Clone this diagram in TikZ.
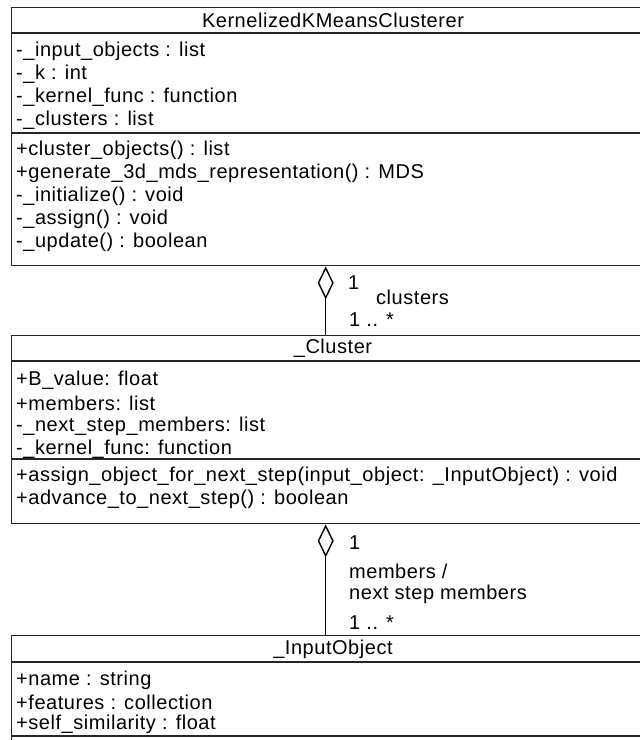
\documentclass[tikz,border=0pt]{standalone}
\usepackage{fontspec}
\setmainfont[LetterSpace=2.7]{Liberation Sans}
\usepackage{tikz}
\usetikzlibrary{arrows.meta}
\newcommand{\ufont}{\fontsize{20}{23}\selectfont}
\tikzset{
  uline/.style={draw=black!85,line width=1.4pt},
  urow/.style={anchor=west,inner sep=0pt,font=\ufont},
  utitle/.style={inner sep=0pt,font=\ufont},
  uagg/.style={uline,draw=black,{Diamond[open,length=33pt,width=16pt]}-}}
% box: name, top, first rule, second rule, bottom
\newcommand{\ubox}[5]{%
  \node[uline,anchor=north west,inner sep=0pt,minimum width=645pt,
    minimum height={#5-#2}] (#1) at (10.5,#2) {};
  \draw[uline] (10.5,#3) -- (655.5,#3);
  \draw[uline] (10.5,#4) -- (655.5,#4);}
% rows: name, first y, step, list
\newcommand{\urows}[4]{%
  \foreach \utxt [count=\ui] in {#4}{%
    \node[urow] (#1\ui) at (16,{#2+(\ui-1)*#3}) {\utxt};}}

\begin{document}
\begin{tikzpicture}[x=1pt,y=-1pt]
  \useasboundingbox (0,0) rectangle (640,740);
  \fill[white] (0,0) rectangle (640,740);
  \clip (0,0) rectangle (640,740);
  % classes
  \ubox{kkm}{7}{33}{133}{265}
  \node[utitle] (kkmT) at (333,20) {KernelizedKMeansClusterer};
  \urows{kkmA}{51}{23}{-\_input\_objects : list, -\_k : int,
    -\_kernel\_func : function, -\_clusters : list}
  \urows{kkmM}{150}{23}{+cluster\_objects() : list,
    +generate\_3d\_mds\_representation() : MDS, -\_initialize() : void,
    -\_assign() : void, -\_update() : boolean}
  \ubox{clu}{335}{361}{459}{523}
  \node[utitle] (cluT) at (333,348) {\_Cluster};
  \urows{cluA}{380}{23}{+B\_value: float, +members: list,
    -\_next\_step\_members: list, -\_kernel\_func: function}
  \urows{cluM}{476}{23}{+assign\_object\_for\_next\_step(input\_object: \_InputObject) : void,
    +advance\_to\_next\_step() : boolean}
  \ubox{inp}{635}{662}{736}{790}
  \node[utitle] (inpT) at (333,649) {\_InputObject};
  \urows{inpA}{680}{22}{+name : string, +features : collection,
    +self\_similarity : float}
  % aggregations
  \draw[uagg] ([xshift=-8pt]kkm.south) -- ([xshift=-8pt]clu.north);
  \node[urow] (kcOne) at (348,283) {1};
  \node[urow] (kcName) at (376,297) {clusters};
  \node[urow] (kcMany) at (349,320) {1 .. *};
  \draw[uagg] ([xshift=-8pt]clu.south) -- ([xshift=-8pt]inp.north);
  \node[urow] (ciOne) at (349,543) {1};
  \node[urow] (ciName) at (349,571) {members /};
  \node[urow] (ciNext) at (349,594) {next step members};
  \node[urow] (ciMany) at (349,623) {1 .. *};
\end{tikzpicture}
\end{document}
